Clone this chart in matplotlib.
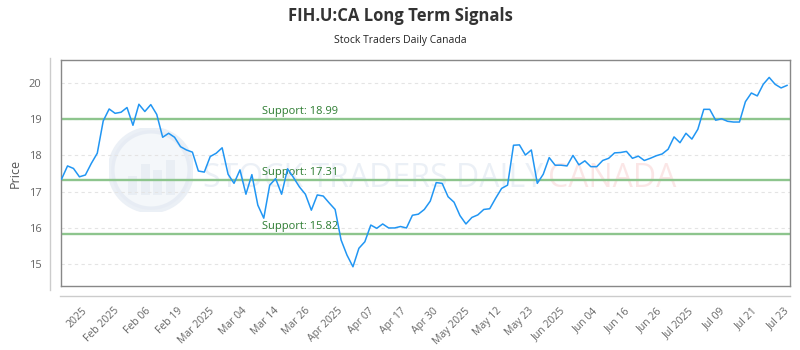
import matplotlib
matplotlib.use("Agg")
import matplotlib.pyplot as plt
from matplotlib.lines import Line2D
from matplotlib.patches import Circle, Rectangle
import numpy as np

# closing prices, one per trading session shown on the chart
prices = [17.35, 17.71, 17.64, 17.41, 17.46, 17.78, 18.06, 18.95, 19.28, 19.16,
          19.19, 19.32, 18.83, 19.41, 19.21, 19.40, 19.13, 18.50, 18.61, 18.50,
          18.24, 18.15, 18.09, 17.57, 17.54, 17.97, 18.06, 18.21, 17.48, 17.23,
          17.60, 16.93, 17.47, 16.63, 16.27, 17.18, 17.36, 16.93, 17.63, 17.39,
          17.13, 16.93, 16.49, 16.91, 16.88, 16.69, 16.51, 15.67, 15.25, 14.93,
          15.44, 15.62, 16.08, 15.99, 16.11, 16.00, 16.00, 16.04, 16.00, 16.35,
          16.38, 16.51, 16.74, 17.25, 17.23, 16.86, 16.71, 16.34, 16.11, 16.29,
          16.36, 16.51, 16.53, 16.82, 17.09, 17.18, 18.28, 18.29, 18.01, 18.15,
          17.23, 17.48, 17.94, 17.73, 17.73, 17.71, 18.00, 17.74, 17.85, 17.69,
          17.69, 17.86, 17.92, 18.07, 18.08, 18.11, 17.92, 17.98, 17.86, 17.92,
          17.99, 18.04, 18.17, 18.51, 18.35, 18.61, 18.45, 18.72, 19.27, 19.27,
          18.97, 19.01, 18.94, 18.92, 18.92, 19.48, 19.72, 19.64, 19.96, 20.15,
          19.96, 19.86, 19.93]

support_levels = [18.99, 17.31, 15.82]

tick_labels = ["2025", "Feb 2025", "Feb 06", "Feb 19", "Mar 2025", "Mar 04",
               "Mar 14", "Mar 26", "Apr 2025", "Apr 07", "Apr 17", "Apr 30",
               "May 2025", "May 12", "May 23", "Jun 2025", "Jun 04", "Jun 16",
               "Jun 26", "Jul 2025", "Jul 09", "Jul 21", "Jul 23"]

y_ticks = [15, 16, 17, 18, 19, 20]

FONT = ["Open Sans", "DejaVu Sans"]
plt.rcParams['font.family'] = FONT

fig = plt.figure(figsize=(8, 3.5), dpi=100)
L, R, B, T = 61 / 800, 790 / 800, 1 - 286 / 350, 1 - 60 / 350
ax = fig.add_axes([L, B, R - L, T - B])

x = np.arange(len(prices))
n = len(prices) - 1
ax.set_xlim(-0.1, n + 0.5)
ax.set_ylim(14.40, 20.63)

# watermark
ax.text(0.662, 0.475, "STOCK TRADERS DAILY", transform=ax.transAxes, fontsize=23,
        color="#dfe6f0", alpha=0.6, ha="right", va="center", zorder=0)
ax.text(0.668, 0.475, "CANADA", transform=ax.transAxes, fontsize=23,
        color="#f8cfcf", alpha=0.5, ha="left", va="center", zorder=0)
circ_ax = fig.add_axes([109 / 800, 1 - 212 / 350, 84 / 800, 84 / 350])
circ_ax.set_xlim(-1, 1)
circ_ax.set_ylim(-1, 1)
circ_ax.set_aspect("equal")
circ_ax.axis("off")
circ_ax.add_patch(Circle((0, 0), 0.95, fc="#eef2f8", ec="#dfe6f0", lw=5, alpha=0.6))
for bx, bh in [(-0.55, 0.45), (-0.25, 0.75), (0.05, 0.6), (0.35, 0.85)]:
    circ_ax.add_patch(Rectangle((bx, -0.6), 0.22, bh, fc="#dfe6f0", ec="none", alpha=0.5))
circ_ax.set_zorder(0)
ax.set_zorder(1)
ax.patch.set_alpha(0)

# grid
for yv in y_ticks:
    ax.axhline(yv, color="#e4e4e4", lw=0.8, ls=(0, (3, 3)), zorder=1)

# support lines
for lvl in support_levels:
    ax.axhline(lvl, color="#8dc58d", lw=1.7, zorder=2)
    ax.annotate(f"Support: {lvl:.2f}", xy=(0.2757, lvl), xycoords=("axes fraction", "data"),
                xytext=(0, 2), textcoords="offset points", fontsize=8,
                color="#2e7d32", ha="left", va="bottom", zorder=3)

ax.plot(x, prices, color="#2196f3", lw=1.1, zorder=4)

# ticks
tick_pos = np.linspace(3.36, n - 0.6, len(tick_labels))
ax.set_xticks(tick_pos)
ax.set_xticklabels(tick_labels, rotation=45, ha="right", rotation_mode="anchor",
                   fontsize=7.5, color="#666666")
ax.tick_params(axis="x", length=0, pad=14)
ax.set_yticks(y_ticks)
ax.set_yticklabels([str(v) for v in y_ticks], fontsize=8, color="#666666")
ax.tick_params(axis="y", length=0, pad=14)
ax.set_ylabel("Price", fontsize=9, color="#555555", labelpad=5)

for sp in ax.spines.values():
    sp.set_color("#888888")
    sp.set_linewidth(1)

# outer axis lines
fig.add_artist(Line2D([50 / 800, 50 / 800], [1 - 290 / 350, 1 - 58 / 350],
                      color="#cccccc", lw=1))
fig.add_artist(Line2D([60 / 800, 790 / 800], [1 - 296 / 350, 1 - 296 / 350],
                      color="#cccccc", lw=1))

fig.text(0.5, 1 - 16 / 350, "FIH.U:CA Long Term Signals", ha="center", va="center",
         fontsize=12, fontweight="bold", color="#333333")
fig.text(0.5, 1 - 40 / 350, "Stock Traders Daily Canada", ha="center", va="center",
         fontsize=7.5, color="#222222")

fig.savefig("out.png", dpi=100)
